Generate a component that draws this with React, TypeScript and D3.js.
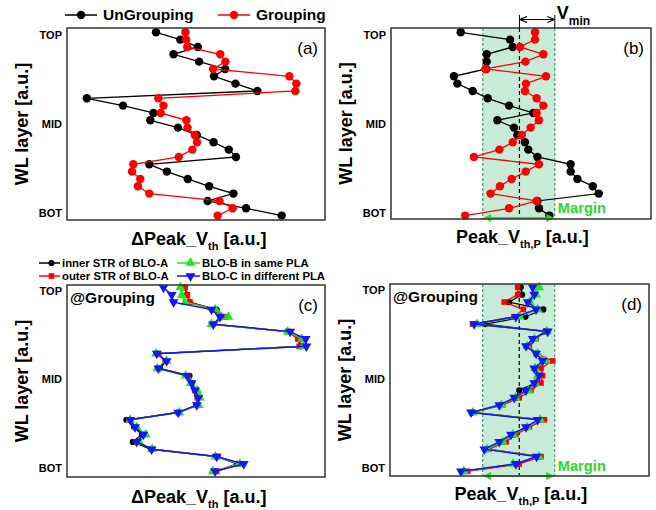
import React from 'react';
import * as d3 from 'd3';

// ---- data (layer index 0 = TOP ... 25 = BOT), x in arbitrary units 0..100
const aUnGrouping = [34.5, 43.9, 50.7, 41.3, 51.2, 61.3, 57.0, 65.3, 73.8, 7.7, 21.7, 33.5, 32.3, 43.0, 50.3, 56.8, 62.7, 65.5, 31.9, 38.7, 46.8, 55.1, 64.5, 54.5, 69.4, 83.2];
const aGrouping = [45.9, 46.2, 46.6, 59.4, 61.4, 56.6, 86.2, 88.9, 88.5, 35.4, 37.4, 36.3, 46.3, 46.7, 49.5, 50.4, 48.6, 43.3, 25.7, 25.2, 28.4, 27.5, 31.9, 59.1, 64.2, 58.4];

const bUnGrouping = [26.8, 45.8, 46.8, 36.8, 36.8, 36.6, 24.2, 25.5, 31.4, 37.2, 45.4, 54.7, 40.9, 47.3, 48.6, 51.5, 52.8, 56.3, 69.1, 69.1, 71.7, 77.6, 79.9, 56.3, 56.9, 60.9];
const bGrouping = [55.4, 55.4, 49.6, 58.6, 51.7, 36.3, 59.6, 51.9, 51.5, 56.0, 58.6, 56.0, 56.9, 53.7, 50.3, 46.8, 41.7, 31.9, 56.9, 51.8, 46.4, 41.9, 38.3, 56.0, 45.4, 28.5];

const cInner = [45.5, 46.5, 47.5, 58.0, 61.5, 56.5, 86.0, 90.0, 90.5, 35.0, 38.5, 36.0, 47.5, 48.5, 50.0, 51.0, 50.5, 43.0, 23.0, 26.0, 29.0, 25.5, 32.5, 58.0, 66.0, 57.5];
const cOuter = [45.8, 46.7, 47.7, 57.0, 61.0, 56.0, 85.5, 89.5, 90.0, 35.5, 38.0, 35.5, 47.0, 48.0, 49.5, 50.5, 50.0, 43.5, 24.0, 26.5, 30.0, 27.0, 33.0, 58.5, 66.5, 58.0];
const cSame = [43.9, 44.5, 45.8, 57.5, 62.5, 56.0, 85.5, 91.0, 91.5, 34.5, 38.5, 35.0, 46.0, 48.0, 50.5, 51.5, 51.0, 43.5, 24.5, 27.0, 30.5, 28.0, 33.0, 57.5, 67.0, 56.5];
const cDiff = [37.4, 40.6, 41.3, 56.0, 59.3, 56.7, 86.5, 92.5, 92.8, 34.8, 38.6, 35.4, 46.6, 48.3, 49.6, 50.9, 50.3, 43.1, 24.5, 26.4, 29.6, 27.0, 32.8, 58.0, 68.5, 57.4];

const dInner = [50.5, 51.0, 46.0, 59.2, 52.3, 36.8, 60.0, 55.5, 53.0, 56.5, 60.0, 56.5, 57.5, 56.0, 49.9, 48.5, 43.0, 31.8, 58.0, 53.0, 47.5, 43.5, 37.5, 57.5, 49.0, 28.5];
const dOuter = [49.3, 49.3, 44.1, 51.5, 48.0, 31.9, 60.2, 56.4, 53.8, 56.4, 62.8, 58.3, 58.9, 58.3, 54.4, 49.9, 43.5, 31.9, 59.6, 53.8, 48.6, 44.8, 38.3, 58.3, 49.9, 30.0];
const dSame = [57.6, 56.4, 54.0, 57.0, 50.0, 33.5, 60.5, 55.8, 53.0, 57.0, 60.0, 56.0, 57.0, 56.0, 53.5, 48.5, 43.0, 32.0, 58.0, 53.0, 47.5, 43.5, 37.5, 57.5, 47.5, 28.5];
const dDiff = [55.1, 55.7, 53.2, 56.4, 48.6, 32.5, 60.9, 55.1, 52.5, 56.4, 58.9, 55.7, 57.6, 55.7, 52.5, 48.0, 42.2, 31.3, 57.0, 52.5, 46.7, 42.2, 36.4, 56.6, 48.6, 27.4];

const yTickLabels = ['TOP', 'MID', 'BOT'];
const yTickLayers = [0.45, 12.5, 24.6];

// band / margin limits for (b) and (d), same units as x data
const bandB = { lo: 35.3, hi: 63.0, mid: 49.4 };
const bandD = { lo: 35.8, hi: 63.6, mid: 49.9 };

const FONT = 'Arial, "Liberation Sans", Helvetica, sans-serif';
const GREEN_TXT = '#2ed62e';

type Shape = 'circle' | 'square' | 'up' | 'down';
interface Series { name: string; values: number[]; color: string; shape: Shape; size: number; width: number; }

const symbolPath = (shape: Shape, size: number) => {
  const t = shape === 'circle' ? d3.symbolCircle : shape === 'square' ? d3.symbolSquare : d3.symbolTriangle;
  return d3.symbol().type(t).size(size)() || '';
};

const Marker = ({ s, cx, cy }: { s: Series; cx: number; cy: number }) => (
  <path
    d={symbolPath(s.shape, s.size)}
    transform={`translate(${cx},${cy})${s.shape === 'down' ? ' rotate(180)' : ''}`}
    fill={s.color}
  />
);

const abSeries = (un: number[], gr: number[]): Series[] => [
  { name: 'UnGrouping', values: un, color: '#000', shape: 'circle', size: 56, width: 1.3 },
  { name: 'Grouping', values: gr, color: '#ff0000', shape: 'circle', size: 56, width: 1.3 },
];
const cdSeries = (a: number[], b: number[], c: number[], d: number[]): Series[] => [
  { name: 'inner STR of BLO-A', values: a, color: '#000', shape: 'circle', size: 30, width: 1.3 },
  { name: 'outer STR of BLO-A', values: b, color: '#ff0000', shape: 'square', size: 32, width: 1.3 },
  { name: 'BLO-B in same PLA', values: c, color: '#1ee61e', shape: 'up', size: 42, width: 1.3 },
  { name: 'BLO-C in different PLA', values: d, color: '#1414ff', shape: 'down', size: 42, width: 1.5 },
];

interface PanelCfg {
  tag: string; left: number; right: number; top: number; bottom: number;
  y0: number; y25: number; series: Series[]; band?: { lo: number; hi: number; mid: number };
  xMain: string; xSub: string; xLabelY: number; grouping?: boolean; marginY: number;
}

const panels: PanelCfg[] = [
  { tag: '(a)', left: 67, right: 325, top: 28, bottom: 220, y0: 32.3, y25: 215.6, series: abSeries(aUnGrouping, aGrouping), xMain: 'ΔPeak_V', xSub: 'th', xLabelY: 245, marginY: 0 },
  { tag: '(b)', left: 391, right: 651, top: 28, bottom: 219, y0: 32.3, y25: 215.6, series: abSeries(bUnGrouping, bGrouping), band: bandB, xMain: 'Peak_V', xSub: 'th,P', xLabelY: 243, marginY: 218 },
  { tag: '(c)', left: 67, right: 325, top: 285, bottom: 477, y0: 287.5, y25: 471.3, series: cdSeries(cInner, cOuter, cSame, cDiff), xMain: 'ΔPeak_V', xSub: 'th', xLabelY: 503, grouping: true, marginY: 0 },
  { tag: '(d)', left: 390, right: 649, top: 284, bottom: 476, y0: 287.3, y25: 471.3, series: cdSeries(dInner, dOuter, dSame, dDiff), band: bandD, xMain: 'Peak_V', xSub: 'th,P', xLabelY: 500, grouping: true, marginY: 476 },
];

const Panel = ({ p }: { p: PanelCfg }) => {
  const x = d3.scaleLinear().domain([0, 100]).range([p.left, p.right]);
  const y = d3.scaleLinear().domain([0, 25]).range([p.y0, p.y25]);
  const line = d3.line<number>().x(d => x(d)).y((_, i) => y(i));
  const cx = (p.left + p.right) / 2;
  const cy = (p.top + p.bottom) / 2;
  return (
    <g>
      {p.band && (
        <g>
          <rect x={x(p.band.lo)} y={p.top} width={x(p.band.hi) - x(p.band.lo)} height={p.bottom - p.top} fill="#c7ebd6" />
          {[p.band.lo, p.band.hi].map((v, i) => (
            <line key={i} x1={x(v)} x2={x(v)} y1={p.top} y2={p.bottom} stroke="#2f9c55" strokeWidth={1.1} strokeDasharray="3,2" />
          ))}
          <line x1={x(p.band.mid)} x2={x(p.band.mid)} y1={p.top} y2={p.bottom} stroke="#000" strokeWidth={1.2} strokeDasharray="4,3" />
        </g>
      )}
      {p.series.map(s => (
        <g key={s.name}>
          <path d={line(s.values) || ''} fill="none" stroke={s.color} strokeWidth={s.width} />
          {s.values.map((v, i) => <Marker key={i} s={s} cx={x(v)} cy={y(i)} />)}
        </g>
      ))}
      {p.band && (
        <g>
          <line x1={x(p.band.lo) + 2} x2={x(p.band.hi) - 2} y1={p.marginY} y2={p.marginY} stroke={GREEN_TXT} strokeWidth={2} markerStart="url(#arrG)" markerEnd="url(#arrG)" />
          <text x={x(p.band.hi) + 3} y={p.marginY - 5} fill={GREEN_TXT} fontSize={14.7} fontWeight="bold" fontFamily={FONT}>Margin</text>
        </g>
      )}
      <rect x={p.left} y={p.top} width={p.right - p.left} height={p.bottom - p.top} fill="none" stroke="#333" strokeWidth={1.5} />
      {yTickLabels.map((t, i) => (
        <text key={t} x={p.left - 5} y={y(yTickLayers[i])} dy="0.35em" textAnchor="end" fontSize={11} fontWeight="bold" fontFamily={FONT}>{t}</text>
      ))}
      <text x={p.right - 7} y={p.top + 26} textAnchor="end" fontSize={17} fontFamily={FONT}>{p.tag}</text>
      {p.grouping && (
        <text x={p.left + 3} y={p.top + 18} fontSize={15.5} fontWeight="bold" fontFamily={FONT}>@Grouping</text>
      )}
      <text transform={`translate(${p.left - 45},${cy}) rotate(-90)`} textAnchor="middle" dy="0.35em" fontSize={18} fontWeight="bold" fontFamily={FONT}>WL layer [a.u.]</text>
      <text x={cx - 65} y={p.xLabelY} fontSize={18} fontWeight="bold" fontFamily={FONT}>
        {p.xMain}
        <tspan dy={5} fontSize={11}>{p.xSub}</tspan>
        <tspan dy={-5}> [a.u.]</tspan>
      </text>
    </g>
  );
};

export default function App() {
  const pb = panels[1];
  const xb = d3.scaleLinear().domain([0, 100]).range([pb.left, pb.right]);
  const abLegend = abSeries(aUnGrouping, aGrouping);
  const cdLegend = cdSeries(cInner, cOuter, cSame, cDiff);
  const legPos = [
    { lx: 39, tx: 62, y: 263 },
    { lx: 39, tx: 62, y: 276 },
    { lx: 177, tx: 202, y: 263 },
    { lx: 177, tx: 202, y: 276 },
  ];
  return (
    <svg width={656} height={510} style={{ position: 'absolute', left: 0, top: 0, background: '#fff' }}>
      <defs>
        <marker id="arrG" viewBox="0 0 10 10" refX="8" refY="5" markerWidth="4" markerHeight="4" orient="auto-start-reverse">
          <path d="M0,0 L10,5 L0,10 z" fill={GREEN_TXT} />
        </marker>
        <marker id="arrK" viewBox="0 0 10 10" refX="9" refY="5" markerWidth="6" markerHeight="6" orient="auto-start-reverse">
          <path d="M0,1 L10,5 L0,9" fill="none" stroke="#000" strokeWidth={1.5} />
        </marker>
      </defs>
      <rect width={656} height={510} fill="#fff" />
      {panels.map(p => <Panel key={p.tag} p={p} />)}

      {/* legend (a)/(b) */}
      {abLegend.map((s, i) => {
        const lx = i === 0 ? 65 : 218;
        return (
          <g key={s.name}>
            <line x1={lx} x2={lx + 32} y1={15} y2={15} stroke={s.color} strokeWidth={1.5} />
            <Marker s={s} cx={lx + 16} cy={15} />
            <text x={lx + 38} y={15} dy="0.35em" fontSize={15.5} fontWeight="bold" fontFamily={FONT}>{s.name}</text>
          </g>
        );
      })}

      {/* legend (c)/(d) */}
      {cdLegend.map((s, i) => {
        const lp = legPos[i];
        return (
          <g key={s.name}>
            <line x1={lp.lx} x2={lp.tx - 2} y1={lp.y} y2={lp.y} stroke={s.color} strokeWidth={1.5} />
            <Marker s={s} cx={(lp.lx + lp.tx) / 2 + 1} cy={lp.y} />
            <text x={lp.tx} y={lp.y} dy="0.35em" fontSize={11.3} fontWeight="bold" fontFamily={FONT}>{s.name}</text>
          </g>
        );
      })}

      {/* Vmin annotation */}
      {[bandB.mid, bandB.hi].map((v, i) => (
        <line key={i} x1={xb(v)} x2={xb(v)} y1={15} y2={28} stroke="#000" strokeWidth={1} />
      ))}
      <line x1={xb(bandB.mid) + 1} x2={xb(bandB.hi) - 1} y1={19.5} y2={19.5} stroke="#000" strokeWidth={1.2} markerStart="url(#arrK)" markerEnd="url(#arrK)" />
      <text x={xb(bandB.hi) + 2} y={18.5} fontSize={18} fontWeight="bold" fontFamily={FONT}>
        V<tspan dy={6} fontSize={12}>min</tspan>
      </text>
    </svg>
  );
}
